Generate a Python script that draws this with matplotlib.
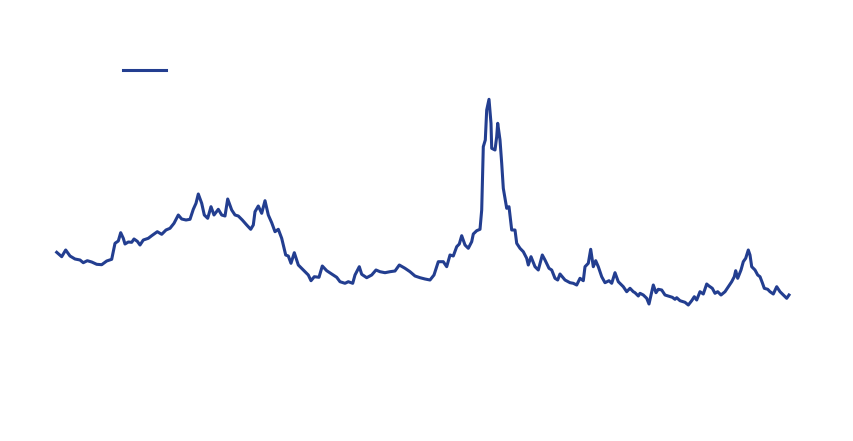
import matplotlib
matplotlib.use("Agg")
import matplotlib.pyplot as plt
from matplotlib.lines import Line2D

# time index (arbitrary units) and level (arbitrary units)
t = [56.7, 61.7, 65.7, 70, 75, 80, 83.3, 87.3, 91.7, 96.7, 101.7, 106.7, 111.7, 115, 118.3,
     120.7, 123.3, 125, 128.3, 131.7, 134, 137.3, 140, 143.3, 148.3, 151.7, 157.3, 161.7,
     166, 170, 174, 178.3, 181.7, 186, 190, 193.3, 196, 198.3, 201.7, 204.3, 207.7, 211,
     214, 218.3, 221.7, 225, 227.7, 231.7, 235, 238.3, 242.3, 246.7, 250.7, 253.3, 255,
     258.3, 261.7, 265, 268.3, 271.7, 275, 278.3, 281.7, 285.7, 288.3, 291, 294.3, 298.3,
     303.3, 308.3, 311, 314.3, 319, 322.3, 326.7, 331.7, 336.7, 340, 345, 348.3, 352.7,
     355, 359.3, 361.7, 366.7, 371.7, 376, 380, 385, 390, 395, 399.3, 405, 410, 415, 420,
     425, 430, 434, 438.3, 443.3, 446.7, 450, 453.3, 456.7, 459.3, 461.7, 465, 468.3,
     471.7, 473.3, 476.7, 480, 481.7, 483.3, 485.3, 486.7, 489, 491, 491.7, 495, 496.7,
     497.7, 500, 501.7, 503.3, 506.7, 509, 511.7, 515, 516.7, 520, 523.3, 526.7, 528.3,
     531, 535, 538.3, 542.3, 545, 549, 551.7, 555, 557.7, 560, 565, 570, 573.3, 576.7,
     580, 583.3, 585, 588.3, 590.7, 593.3, 595.7, 598.3, 601.7, 605, 609, 611.7, 615,
     618.3, 623.3, 626.7, 630, 633.3, 635, 638.3, 640, 643.3, 646.7, 649, 651, 653.3, 656,
     658.3, 661.7, 665, 668.3, 672.3, 675, 676.7, 680, 685, 688.3, 691.7, 694.3, 696.7,
     700, 703.3, 706.7, 709, 712.3, 715, 717.7, 721, 725, 728.3, 731.7, 734.3, 735.7,
     737.7, 741, 743.3, 745.7, 748.3, 750, 751.7, 755, 757.7, 760, 762.3, 764.3, 767.7,
     770, 773.3, 776.7, 780, 783.3, 786.7, 789]

level = [77.7, 73.3, 80, 74, 71, 70, 67.3, 69.3, 68, 65.7, 65.3, 69, 70.7, 86.7, 89,
         97.3, 91.7, 86, 88, 87.7, 91, 88.7, 85, 90, 91.7, 94.3, 98.3, 95.7,
         100, 101.7, 106.7, 115, 111, 110, 110.7, 120.7, 126.7, 136, 126.7, 115, 111.7, 123.3,
         115, 120.7, 115, 114, 131, 120, 115, 114, 110, 105, 100.7, 105, 118.3,
         124, 116.7, 129.3, 115, 107.3, 98.3, 100.7, 91.7, 75, 74, 66.7, 77.3, 65,
         60, 55, 49.3, 53.3, 52.7, 64, 59.3, 56, 52.7, 48.3, 46.7, 48.3, 46.7,
         55, 63.3, 55.7, 52.3, 55, 60, 58.3, 57.3, 58.3, 59, 65, 61.7, 58.3, 54, 52.3,
         51, 50, 55, 68.3, 68.3, 63.3, 75, 74, 83.3, 86, 94.3, 85, 81.7,
         88.3, 96, 99.3, 100.7, 120, 183.3, 190, 220, 230.7, 206.7, 181.7, 180, 193.3,
         206.7, 190, 166.7, 141.7, 121.7, 123.3, 100, 100, 86.7, 81.7, 78.3, 71.7, 65,
         73.3, 63.3, 60, 75, 70, 61.7, 60, 51.7, 50, 56, 50, 47.3, 46.7, 45,
         51.7, 49.3, 63.3, 66.7, 80.7, 63.3, 69.3, 63.3, 53.3, 47.3, 49.3, 46.7, 57.3,
         48.3, 43.3, 38.3, 41.7, 38.3, 37.3, 34, 36.7, 35, 31.7, 26, 35, 45, 37.3,
         40.7, 40, 35, 34, 32.7, 30.7, 32.3, 29.3, 27.7, 25, 29.3, 33.3, 30,
         38.3, 36, 46, 44, 41.7, 36.7, 38.3, 35, 38.3, 43.3, 48.3, 53.3, 59.3,
         51.7, 60, 68.3, 71.7, 80, 75, 63.3, 60, 55, 53.3, 47.3, 41.7, 40.7,
         38.3, 36, 43.3, 38.3, 35, 31.7, 35]

line_color = "#233e90"

fig = plt.figure(figsize=(8.54, 4.41), dpi=100)
ax = fig.add_axes([0, 0, 1, 1])
ax.plot(t, level, color=line_color, linewidth=2.2, solid_joinstyle="round")
ax.set_xlim(0, 854)
ax.set_ylim(-111, 330)
ax.axis("off")

handle = Line2D([], [], color=line_color, linewidth=2.2)
fig.legend([handle], [""], loc="upper left",
           bbox_to_anchor=(123 / 854, 1 - 64 / 441),
           frameon=False, borderpad=0, borderaxespad=0, handletextpad=0,
           handlelength=3.12, fontsize=10)

fig.savefig("out.png", dpi=100)
